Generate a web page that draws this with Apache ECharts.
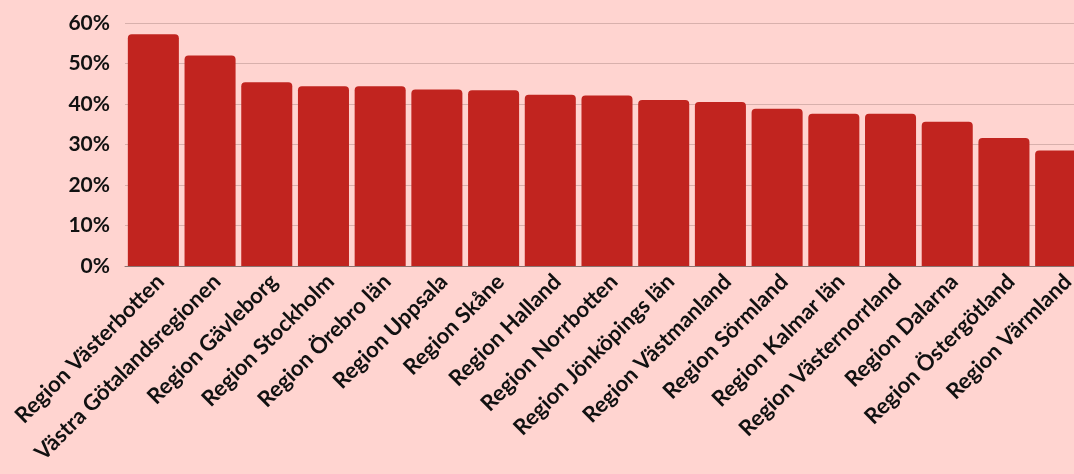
<!DOCTYPE html>
<html>
<head>
<meta charset="utf-8">
<script src="https://cdn.jsdelivr.net/npm/echarts@6/dist/echarts.min.js"></script>
<style>
html,body{margin:0;padding:0;background:#ffd4d0;overflow:hidden;width:1074px;height:474px;}
#c{width:1090px;height:474px;}
</style>
</head>
<body>
<div id="c"></div>
<script>
const categories = ["Region Västerbotten","Västra Götalandsregionen","Region Gävleborg","Region Stockholm","Region Örebro län","Region Uppsala","Region Skåne","Region Halland","Region Norrbotten","Region Jönköpings län","Region Västmanland","Region Sörmland","Region Kalmar län","Region Västernorrland","Region Dalarna","Region Östergötland","Region Värmland"];
const values = [57.2, 52.0, 45.4, 44.4, 44.4, 43.6, 43.4, 42.3, 42.1, 41.0, 40.5, 38.8, 37.6, 37.6, 35.6, 31.6, 28.5];
const yTicks = [0, 10, 20, 30, 40, 50, 60];

const chart = echarts.init(document.getElementById('c'), null, {renderer:'canvas'});
chart.setOption({
  backgroundColor: '#ffd4d0',
  animation: false,
  grid: {left: 125, right: 1, top: 23, bottom: 208, containLabel: false},
  xAxis: {
    type: 'category',
    data: categories,
    axisLine: {show: true, lineStyle: {color: '#8a7370', width: 1}},
    axisTick: {show: false},
    axisLabel: {
      rotate: 45, interval: 0, margin: 5,
      verticalAlign: 'top', lineHeight: 20,
      fontFamily: 'Lato', fontWeight: 'bold', fontSize: 22, color: '#111'
    }
  },
  yAxis: {
    type: 'value',
    min: yTicks[0], max: yTicks[yTicks.length-1], interval: 10,
    axisLine: {show: false},
    axisTick: {show: false},
    splitLine: {lineStyle: {color: '#d8b0ac', width: 1}},
    axisLabel: {
      margin: 15, formatter: v => v + '%',
      fontFamily: 'Lato', fontWeight: 'bold', fontSize: 21, color: '#111'
    }
  },
  series: [{
    type: 'bar',
    data: values,
    barCategoryGap: '10%',
    itemStyle: {color: '#c1241f', borderRadius: [4,4,0,0]}
  }]
});
</script>
</body>
</html>
